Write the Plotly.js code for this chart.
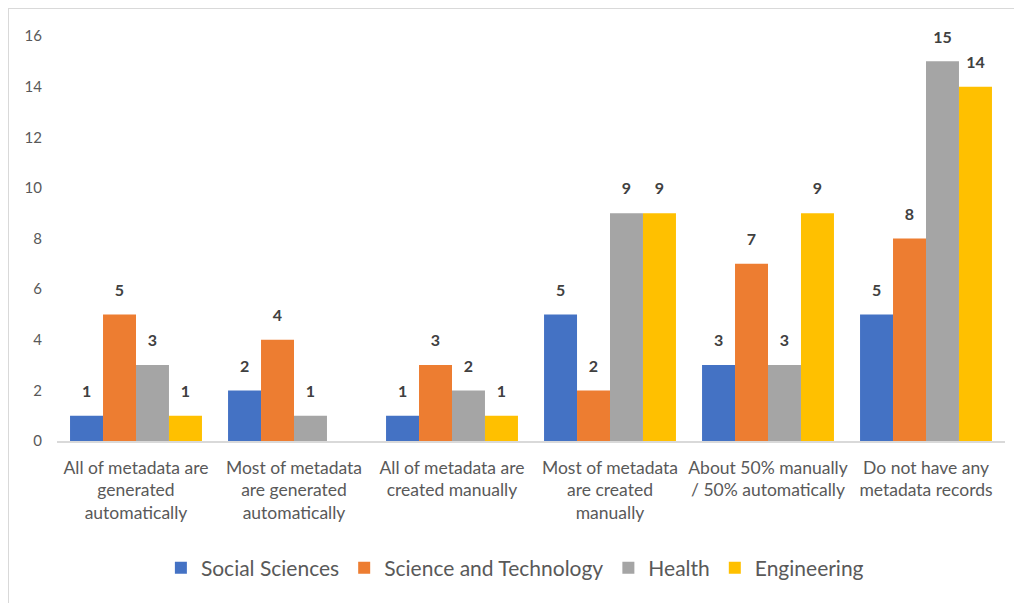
<!DOCTYPE html>
<html>
<head>
<meta charset="utf-8">
<script src="https://cdn.plot.ly/plotly-3.0.1.min.js"></script>
<style>
  html, body { margin: 0; padding: 0; background: #fff; }
  #frame { position: absolute; left: 8px; top: 8px; width: 1100px; height: 700px; border: 1px solid #d9d9d9; box-sizing: border-box; }
  #chart { position: absolute; left: 0; top: 0; width: 1014px; height: 603px; }
</style>
</head>
<body>
<div id="frame"></div>
<div id="chart"></div>
<script>
const categories = [
  "All of metadata are<br>generated<br>automatically",
  "Most of metadata<br>are generated<br>automatically",
  "All of metadata are<br>created manually",
  "Most of metadata<br>are created<br>manually",
  "About 50% manually<br>/ 50% automatically",
  "Do not have any<br>metadata records"
];
const seriesNames = ["Social Sciences", "Science and Technology", "Health", "Engineering"];
const socialSciences = [1, 2, 1, 5, 3, 5];
const scienceTech = [5, 4, 3, 2, 7, 8];
const health = [3, 1, 2, 9, 3, 15];
const engineering = [1, 0, 1, 9, 9, 14];
const yTicks = [0, 2, 4, 6, 8, 10, 12, 14, 16];

const colors = ["#4472c4", "#ed7d31", "#a5a5a5", "#ffc000"];
const allValues = [socialSciences, scienceTech, health, engineering];
const font = "Lato, 'Open Sans', sans-serif";

// bars
const bars = allValues.map((vals, i) => ({
  type: "bar",
  name: seriesNames[i],
  x: categories,
  y: vals,
  offsetgroup: "g" + i,
  marker: { color: colors[i] },
  hoverinfo: "x+y+name"
}));

// value labels, grouped the same way as the bars; an invisible marker lifts each label above its bar
const labels = allValues.map((vals, i) => ({
  type: "scatter",
  mode: "markers+text",
  showlegend: false,
  x: categories,
  y: vals,
  offsetgroup: "g" + i,
  text: vals.map(v => v === 0 ? "" : String(v)),
  textposition: "top center",
  marker: { size: 22, opacity: 0 },
  cliponaxis: false,
  textfont: { family: font, size: 16, color: "#404040", weight: "bold" },
  hoverinfo: "skip"
}));

const layout = {
  width: 1014,
  height: 603,
  margin: { l: 57, r: 9, t: 36, b: 162 },
  paper_bgcolor: "rgba(0,0,0,0)",
  plot_bgcolor: "rgba(0,0,0,0)",
  barmode: "group",
  bargap: 0.165,
  bargroupgap: 0,
  scattermode: "group",
  scattergap: 0.165,
  showlegend: true,
  legend: {
    orientation: "h",
    x: 0.483, xanchor: "center",
    y: -0.314, yanchor: "middle",
    font: { family: font, size: 21, color: "#595959" },
    itemwidth: 30,
    traceorder: "normal"
  },
  xaxis: {
    type: "category",
    automargin: false,
    showline: true,
    linecolor: "#d9d9d9",
    linewidth: 1.5,
    ticks: "",
    ticklabelstandoff: 10,
    tickfont: { family: font, size: 17.5, color: "#595959" },
    showgrid: false
  },
  yaxis: {
    range: [0, 16],
    automargin: false,
    tickvals: yTicks,
    ticktext: yTicks.map(String),
    showgrid: false,
    zeroline: false,
    showline: false,
    ticks: "",
    ticklabelstandoff: 14,
    tickfont: { family: font, size: 15, color: "#595959" }
  }
};

Plotly.newPlot("chart", bars.concat(labels), layout, { displayModeBar: false, staticPlot: true });
</script>
</body>
</html>
